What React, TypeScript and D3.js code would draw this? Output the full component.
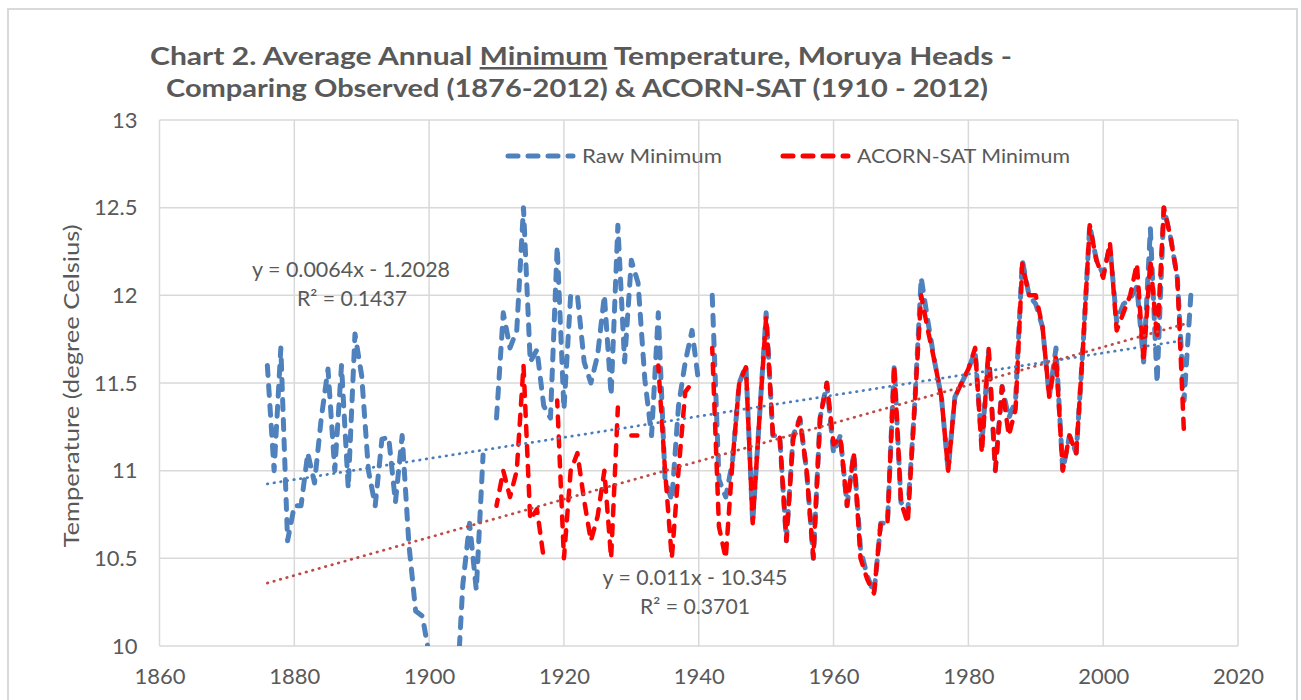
import React, { useRef, useEffect } from 'react';
import * as d3 from 'd3';

// raw observed minimum, 1876-2013 (null = missing). 1901-1904 fall below the 10 axis floor
const rawYears = d3.range(1876, 2014);
const rawMinimum: (number | null)[] = [
  11.6, 11.0, 11.7, 10.6,                                             // 1876-1879
  10.8, 10.8, 11.1, 10.93, 11.3, 11.58, 11.0, 11.6, 10.9, 11.78,      // 1880s
  11.54, 11.0, 10.8, 11.18, 11.19, 10.82, 11.2, 10.58, 10.2, 10.17,   // 1890s
  9.95, 9.6, 9.5, 9.6, 9.65, 10.35, 10.7, 10.32, 11.09, null,         // 1900s
  11.3, 11.9, 11.7, 11.8, 12.5, 11.62, 11.69, 11.37, 11.3, 12.28,     // 1910s
  11.35, 12.0, 12.0, 11.62, 11.5, 11.66, 12.0, 11.43, 12.4, 11.62,    // 1920s
  12.2, 12.07, 11.52, 11.2, 11.9, 10.95, 10.83, 11.37, 11.62, 11.8,   // 1930s
  11.5, null, 12.0, 10.95, 10.85, 11.05, 11.5, 11.6, 10.7, 11.3,      // 1940s
  11.9, 11.2, 11.2, 10.6, 11.2, 11.3, 11.0, 10.5, 11.3, 11.5,         // 1950s
  11.1, 11.2, 10.8, 11.1, 10.55, 10.4, 10.3, 10.7, 10.7, 11.6,        // 1960s
  10.82, 10.76, 11.35, 12.1, 11.85, 11.62, 11.42, 11.0, 11.42, 11.5,  // 1970s
  11.58, 11.68, 11.15, 11.68, 11.0, 11.48, 11.3, 11.4, 12.2, 12.0,    // 1980s
  11.95, 11.82, 11.42, 11.7, 11.0, 11.2, 11.1, 11.7, 12.4, 12.2,      // 1990s
  12.12, 12.28, 11.85, 11.95, 11.98, 12.05, 11.62, 12.38, 11.5, 12.5, // 2000s
  12.33, 12.1, 11.4, 12.0,                                            // 2010-2013
];

// ACORN-SAT minimum, 1910-2012
const acornYears = d3.range(1910, 2013);
const acornMinimum: (number | null)[] = [
  10.8, 11.0, 10.85, 11.0, 11.6, 10.72, 10.78, 10.5, null, 11.4,      // 1910s
  10.5, 11.0, 11.1, 10.83, 10.6, 10.74, 11.0, 10.5, 11.36, null,      // 1920s
  11.2, 11.2, null, null, 11.6, 11.0, 10.5, 11.0, 11.45, 11.5,        // 1930s
  null, null, 11.7, 10.68, 10.5, 11.05, 11.5, 11.59, 10.7, 11.3,      // 1940s
  11.88, 11.2, 11.2, 10.6, 11.18, 11.3, 11.0, 10.5, 11.3, 11.5,       // 1950s
  11.15, 11.19, 10.8, 11.1, 10.5, 10.38, 10.3, 10.7, 10.7, 11.6,      // 1960s
  10.82, 10.7, 11.35, 12.0, 11.8, 11.62, 11.42, 11.0, 11.42, 11.5,    // 1970s
  11.58, 11.7, 11.1, 11.7, 11.0, 11.48, 11.2, 11.35, 12.18, 12.0,     // 1980s
  12.0, 11.82, 11.42, 11.65, 11.0, 11.2, 11.1, 11.7, 12.4, 12.2,      // 1990s
  12.1, 12.3, 11.8, 11.9, 12.0, 12.18, 11.62, 12.2, 11.75, 12.5,      // 2000s
  12.33, 12.1, 11.2,                                                  // 2010-2012
];

const xTicks = [1860, 1880, 1900, 1920, 1940, 1960, 1980, 2000, 2020];
const yTicks = [10, 10.5, 11, 11.5, 12, 12.5, 13];
const seriesNames = ['Raw Minimum', 'ACORN-SAT Minimum'];
const rawTrendText = ['y = 0.0064x - 1.2028', 'R\u00b2 = 0.1437'];
const acornTrendText = ['y = 0.011x - 10.345', 'R\u00b2 = 0.3701'];

const W = 1301;
const H = 700;
const left = 159.5, right = 1238, top = 120, bottom = 646;
const txt = '#595959';
const font = 'Lato, "Open Sans", sans-serif';

type Pt = { year: number; v: number | null };

// least squares fit over defined points
function fit(pts: Pt[]) {
  const ok = pts.filter(p => p.v != null) as { year: number; v: number }[];
  const mx = d3.mean(ok, p => p.year) as number;
  const my = d3.mean(ok, p => p.v) as number;
  const sxy = d3.sum(ok, p => (p.year - mx) * (p.v - my));
  const sxx = d3.sum(ok, p => (p.year - mx) ** 2);
  const b = sxy / sxx;
  return (x: number) => my + b * (x - mx);
}

const App: React.FC = () => {
  const svgRef = useRef<SVGSVGElement | null>(null);

  useEffect(() => {
    const svg = d3.select(svgRef.current);
    svg.selectAll('*').remove();

    const x = d3.scaleLinear().domain([1860, 2020]).range([left, right]);
    const y = d3.scaleLinear().domain([10, 13]).range([bottom, top]);

    const raw: Pt[] = rawYears.map((year, i) => ({ year, v: rawMinimum[i] }));
    const acorn: Pt[] = acornYears.map((year, i) => ({ year, v: acornMinimum[i] }));

    // chart area border
    svg.append('rect')
      .attr('x', 8).attr('y', 9).attr('width', 1289).attr('height', 720)
      .attr('fill', '#fff').attr('stroke', '#d9d9d9').attr('stroke-width', 2);

    // title
    const t1 = svg.append('text')
      .attr('x', 150).attr('y', 65)
      .attr('font-family', font).attr('font-weight', 700).attr('font-size', 25)
      .attr('fill', txt)
      .attr('textLength', 862).attr('lengthAdjust', 'spacingAndGlyphs');
    t1.append('tspan').text('Chart 2. Average Annual ');
    t1.append('tspan').text('Minimum').attr('text-decoration', 'underline');
    t1.append('tspan').text(' Temperature, Moruya Heads -');
    svg.append('text')
      .attr('x', 166).attr('y', 97)
      .attr('font-family', font).attr('font-weight', 700).attr('font-size', 25)
      .attr('fill', txt)
      .attr('textLength', 822).attr('lengthAdjust', 'spacingAndGlyphs')
      .text('Comparing Observed (1876-2012) & ACORN-SAT (1910 - 2012)');

    // gridlines
    const grid = svg.append('g').attr('stroke', '#d9d9d9').attr('stroke-width', 1.5);
    grid.selectAll('.h').data(yTicks).enter().append('line')
      .attr('x1', left).attr('x2', right)
      .attr('y1', d => y(d)).attr('y2', d => y(d));
    grid.selectAll('.v').data(xTicks).enter().append('line')
      .attr('y1', top).attr('y2', bottom)
      .attr('x1', d => x(d)).attr('x2', d => x(d));

    // axes labels
    const yAxis = d3.axisLeft(y).tickValues(yTicks).tickSize(0).tickPadding(22)
      .tickFormat(d => String(d));
    const gy = svg.append('g').attr('transform', `translate(${left},0)`).call(yAxis);
    const xAxis = d3.axisBottom(x).tickValues(xTicks).tickSize(0).tickPadding(22)
      .tickFormat(d => String(d));
    const gx = svg.append('g').attr('transform', `translate(0,${bottom})`).call(xAxis);
    [gx, gy].forEach(g => {
      g.select('.domain').remove();
      g.selectAll('text')
        .attr('font-family', font).attr('font-size', 22).attr('fill', txt);
    });

    svg.append('text')
      .attr('transform', `translate(79,${(top + bottom) / 2 + 3}) rotate(-90)`)
      .attr('text-anchor', 'middle')
      .attr('font-family', font).attr('font-size', 22).attr('fill', txt)
      .attr('textLength', 323).attr('lengthAdjust', 'spacingAndGlyphs')
      .text('Temperature (degree Celsius)');

    // clip
    svg.append('clipPath').attr('id', 'plotClip')
      .append('rect').attr('x', left).attr('y', top)
      .attr('width', right - left).attr('height', bottom - top);

    const line = d3.line<Pt>()
      .defined(d => d.v != null)
      .x(d => x(d.year))
      .y(d => y(d.v as number));

    const plot = svg.append('g').attr('clip-path', 'url(#plotClip)');

    plot.append('path').datum(raw)
      .attr('d', line).attr('fill', 'none')
      .attr('stroke', '#4f81bd').attr('stroke-width', 5)
      .attr('stroke-dasharray', '10 10').attr('stroke-linecap', 'round')
      .attr('stroke-linejoin', 'round');
    plot.append('path').datum(acorn)
      .attr('d', line).attr('fill', 'none')
      .attr('stroke', '#ff0000').attr('stroke-width', 4.5)
      .attr('stroke-dasharray', '10 10').attr('stroke-dashoffset', 4)
      .attr('stroke-linecap', 'round').attr('stroke-linejoin', 'round');

    // trendlines
    const rawFit = fit(raw);
    const acornFit = fit(acorn);
    const trends = [
      { f: rawFit, x0: rawYears[0], x1: rawYears[rawYears.length - 1], c: '#4a7ebb' },
      { f: acornFit, x0: rawYears[0], x1: acornYears[acornYears.length - 1], c: '#be4b48' },
    ];
    trends.forEach(t => {
      plot.append('line')
        .attr('x1', x(t.x0)).attr('y1', y(t.f(t.x0)))
        .attr('x2', x(t.x1)).attr('y2', y(t.f(t.x1)))
        .attr('stroke', t.c).attr('stroke-width', 2.75)
        .attr('stroke-dasharray', '0.5 6.2').attr('stroke-linecap', 'round');
    });

    // trend equations
    const eq = (s: string, cx: number, cy: number, len: number) =>
      svg.append('text').attr('x', cx).attr('y', cy).attr('text-anchor', 'middle')
        .attr('font-family', font).attr('font-size', 21).attr('fill', txt)
        .attr('textLength', len).attr('lengthAdjust', 'spacingAndGlyphs')
        .text(s);
    eq(rawTrendText[0], 351, 277, 198);
    eq(rawTrendText[1], 352, 306, 110);
    eq(acornTrendText[0], 695, 585, 185);
    eq(acornTrendText[1], 695, 614, 110);

    // legend
    const legend = [
      { name: seriesNames[0], c: '#4f81bd', x0: 505 },
      { name: seriesNames[1], c: '#ff0000', x0: 780 },
    ];
    const lens = [140, 213];
    legend.forEach((l, i) => {
      svg.append('line')
        .attr('x1', l.x0 + 3).attr('x2', l.x0 + 68).attr('y1', 156).attr('y2', 156)
        .attr('stroke', l.c).attr('stroke-width', 5)
        .attr('stroke-dasharray', '10 10').attr('stroke-linecap', 'round');
      svg.append('text')
        .attr('x', l.x0 + 77).attr('y', 163)
        .attr('font-family', font).attr('font-size', 19).attr('fill', txt)
        .attr('textLength', lens[i]).attr('lengthAdjust', 'spacingAndGlyphs')
        .text(l.name);
    });
  }, []);

  return (
    <div>
      <svg ref={svgRef} width={W} height={H}
        style={{ position: 'absolute', left: 0, top: 0, background: '#fff' }} />
    </div>
  );
};

export default App;
